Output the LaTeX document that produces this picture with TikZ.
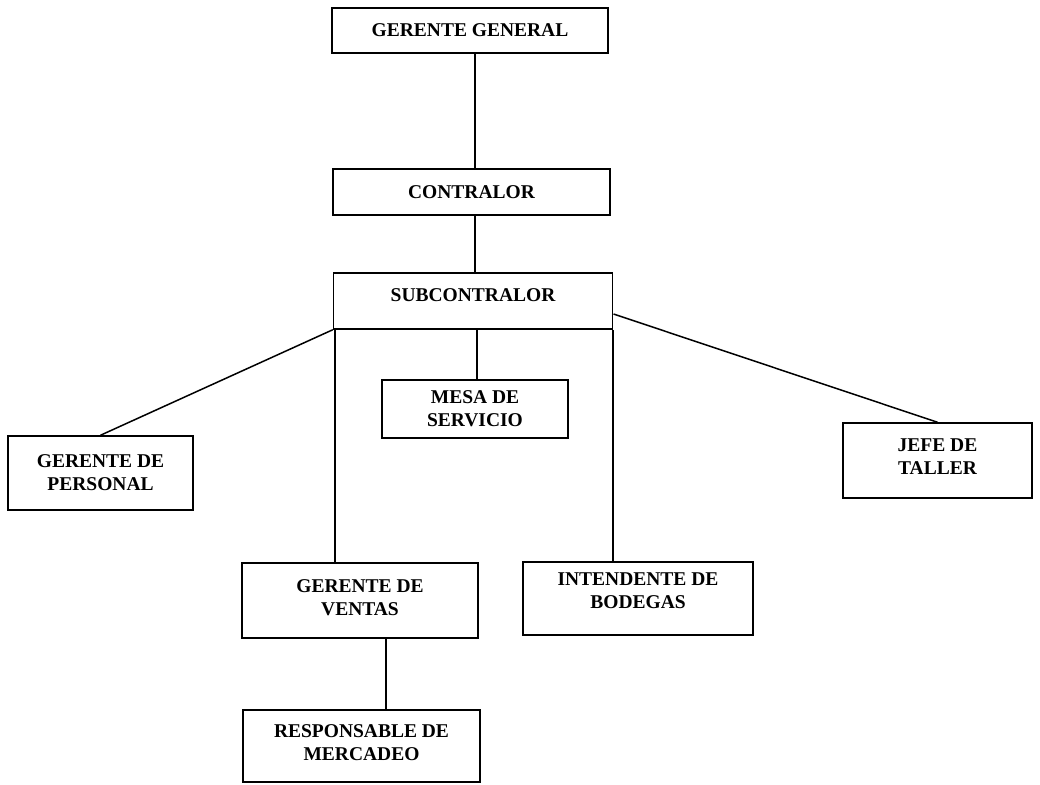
\documentclass[tikz,border=0pt]{standalone}
\usepackage{fontspec}
\setmainfont{Liberation Serif}
\begin{document}
\begin{tikzpicture}[x=1pt,y=-1pt,
  box/.style={draw,line width=1.5pt,rectangle,inner sep=0pt,align=center,
    font=\fontsize{19.5}{23}\selectfont\bfseries},
  conn/.style={line width=1.5pt}]
\useasboundingbox (0,0) rectangle (1040,784);
\node[box,minimum width=276,minimum height=45] (gg) at (470,30.5) {GERENTE GENERAL};
\node[box,minimum width=277,minimum height=46] (con) at (471.5,192) {CONTRALOR};
\node[box,minimum width=279,minimum height=56,text depth=12pt] (sub) at (473,301) {SUBCONTRALOR};
\node[box,minimum width=185,minimum height=74] (per) at (100.5,473) {GERENTE DE\\PERSONAL};
\node[box,minimum width=186,minimum height=58] (mesa) at (475,409) {MESA DE\\SERVICIO};
\node[box,minimum width=189,minimum height=75,text depth=8pt] (jefe) at (937.5,460.5) {JEFE DE\\TALLER};
\node[box,minimum width=236,minimum height=75,text depth=6pt] (ven) at (360,600.5) {GERENTE DE\\VENTAS};
\node[box,minimum width=230,minimum height=73,text depth=16pt] (int) at (638,598.5) {INTENDENTE DE\\BODEGAS};
\node[box,minimum width=237,minimum height=72,text depth=6pt] (resp) at (361.5,746) {RESPONSABLE DE\\MERCADEO};
\coordinate (spine) at (475,0);
\coordinate (mspine) at (477,0);
\coordinate (lv) at (335,0);
\coordinate (rv) at (613,0);
\coordinate (bv) at (386,0);
\coordinate (subr) at (613.5,314);
\draw[conn] (gg.south -| spine) -- (con.north -| spine);
\draw[conn] (con.south -| spine) -- (sub.north -| spine);
\draw[conn] (sub.south -| mspine) -- (mesa.north -| mspine);
\draw[conn] (sub.south west) -- (per.north);
\draw[conn] (sub.south -| lv) -- (ven.north -| lv);
\draw[conn] (sub.south -| rv) -- (int.north -| rv);
\draw[conn] (subr) -- (jefe.north);
\draw[conn] (ven.south -| bv) -- (resp.north -| bv);
\end{tikzpicture}
\end{document}
